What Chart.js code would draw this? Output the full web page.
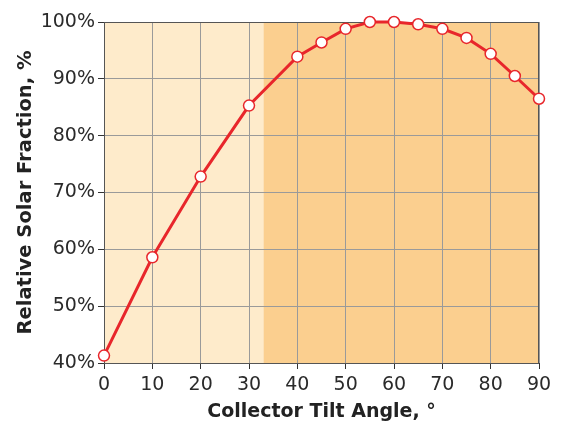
<!DOCTYPE html>
<html>
<head>
<meta charset="utf-8">
<script src="https://cdn.jsdelivr.net/npm/chart.js@4"></script>
<style>
  html, body { margin: 0; padding: 0; background: #fff; }
  #wrap { width: 561px; height: 423px; }
</style>
</head>
<body>
<div id="wrap"><canvas id="solarChart" width="561" height="423"></canvas></div>
<script>
// Tilt angle (degrees) and relative solar fraction (%)
const tiltAngles = [0, 10, 20, 30, 40, 45, 50, 55, 60, 65, 70, 75, 80, 85, 90];
const solarFraction = [41.3, 58.6, 72.8, 85.3, 93.9, 96.4, 98.8, 100, 100, 99.6, 98.8, 97.2, 94.4, 90.5, 86.5];
// Shaded region boundary (degrees)
const bandSplit = 33;
const bandColors = ['#feebcb', '#fbcf8f'];

// Plugin: background bands + frame
const bandPlugin = {
    id: 'bands',
    beforeDraw(chart) {
        const { ctx, chartArea, scales } = chart;
        const xs = scales.x.getPixelForValue(bandSplit);
        ctx.save();
        ctx.fillStyle = bandColors[0];
        ctx.fillRect(chartArea.left, chartArea.top, xs - chartArea.left, chartArea.bottom - chartArea.top);
        ctx.fillStyle = bandColors[1];
        ctx.fillRect(xs, chartArea.top, chartArea.right - xs, chartArea.bottom - chartArea.top);
        ctx.restore();
    },
    beforeDatasetsDraw(chart) {
        const { ctx, chartArea } = chart;
        ctx.save();
        ctx.strokeStyle = '#555';
        ctx.lineWidth = 1;
        ctx.strokeRect(chartArea.left + 0.5, chartArea.top + 0.5, chartArea.right - chartArea.left - 1, chartArea.bottom - chartArea.top);
        ctx.restore();
    }
};

const ctx = document.getElementById('solarChart').getContext('2d');
new Chart(ctx, {
    type: 'line',
    data: {
        datasets: [{
            data: tiltAngles.map((a, i) => ({ x: a, y: solarFraction[i] })),
            borderColor: '#e8262b',
            borderWidth: 3,
            pointRadius: 5.5,
            pointBorderWidth: 1.5,
            pointBackgroundColor: '#ffffff',
            pointBorderColor: '#e8262b',
            clip: false,
            tension: 0
        }]
    },
    options: {
        responsive: false,
        animation: false,
        layout: { padding: { top: 22, right: 22, left: 14, bottom: 0 } },
        plugins: {
            legend: { display: false },
            tooltip: { enabled: false }
        },
        scales: {
            x: {
                type: 'linear',
                min: 0,
                max: 90,
                ticks: { stepSize: 10, color: '#2a2a2a', font: { family: 'DejaVu Sans', size: 19 }, padding: 5 },
                grid: { color: '#9a9a9a', tickColor: '#333', tickLength: 6, lineWidth: 1 },
                border: { color: '#333', width: 1 },
                title: {
                    display: true,
                    text: 'Collector Tilt Angle, °',
                    color: '#222',
                    font: { family: 'DejaVu Sans', size: 19, weight: 'bold' },
                    padding: { top: 6, bottom: 0 }
                },
                afterFit(scale) { scale.height = 60; }
            },
            y: {
                min: 40,
                max: 100,
                ticks: { stepSize: 10, color: '#2a2a2a', font: { family: 'DejaVu Sans', size: 19 }, padding: 3, callback: v => v + '%' },
                grid: { color: '#9a9a9a', tickColor: '#333', tickLength: 6, lineWidth: 1 },
                border: { color: '#333', width: 1 },
                title: {
                    display: true,
                    text: 'Relative Solar Fraction, %',
                    color: '#222',
                    font: { family: 'DejaVu Sans', size: 19.5, weight: 'bold' },
                    padding: { top: 0, bottom: 4 }
                },
                afterFit(scale) { scale.width = 90; }
            }
        }
    },
    plugins: [bandPlugin]
});
</script>
</body>
</html>
